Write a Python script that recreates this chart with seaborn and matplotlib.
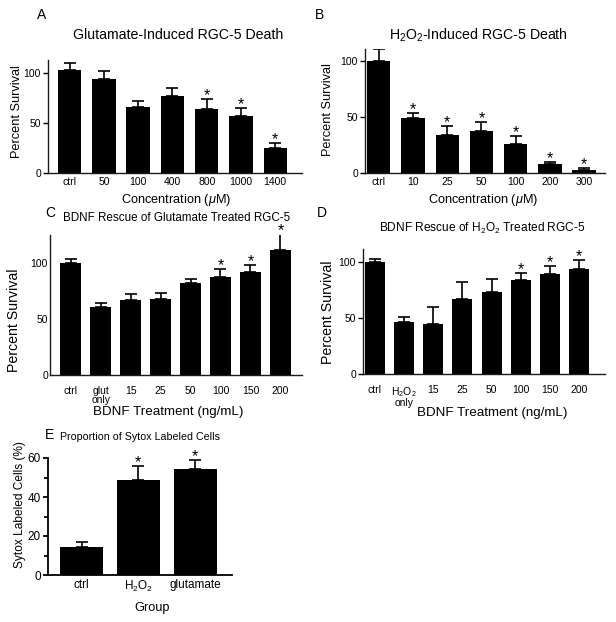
import matplotlib
matplotlib.use("Agg")
import matplotlib.pyplot as plt
import seaborn as sns
import pandas as pd

# Panel A: glutamate dose response
a_labels = ["ctrl", "50", "100", "400", "800", "1000", "1400"]
a_mean = [103, 94, 66, 77, 64, 57, 25]
a_err = [7, 8, 6, 8, 10, 8, 5]
a_star = [False, False, False, False, True, True, True]

# Panel B: H2O2 dose response
b_labels = ["ctrl", "10", "25", "50", "100", "200", "300"]
b_mean = [100, 49, 34, 38, 26, 8, 3]
b_err = [11, 5, 8, 8, 7, 2, 1.5]
b_star = [False, True, True, True, True, True, True]

# Panel C: BDNF rescue, glutamate
c_labels = ["ctrl", "glut\nonly", "15", "25", "50", "100", "150", "200"]
c_mean = [100, 60.5, 67, 68, 82.5, 87.5, 92, 112]
c_err = [4, 3.5, 5, 5, 3.5, 7.5, 6, 13.5]
c_star = [False, False, False, False, False, True, True, True]

# Panel D: BDNF rescue, H2O2
d_labels = ["ctrl", "$\\mathregular{H_2O_2}$\nonly", "15", "25", "50", "100", "150", "200"]
d_mean = [100, 46, 45, 67, 73, 84, 89, 94]
d_err = [3, 5, 15, 15, 12, 6, 7.5, 7.5]
d_star = [False, False, False, False, False, True, True, True]

# Panel E: sytox labelling
e_labels = ["ctrl", "$\\mathregular{H_2O_2}$", "glutamate"]
e_mean = [14.6, 48.9, 54.3]
e_err = [2.5, 6.8, 4.8]
e_star = [False, True, True]

sns.set_style("ticks")
plt.rcParams["font.family"] = ["Liberation Sans", "DejaVu Sans"]
plt.rcParams["mathtext.fontset"] = "custom"
plt.rcParams["mathtext.rm"] = "Liberation Sans"
plt.rcParams["mathtext.it"] = "Liberation Sans:italic"
for key in ("text.color", "axes.labelcolor", "xtick.color", "ytick.color", "axes.edgecolor"):
    plt.rcParams[key] = "black"

W, H = 616, 622
fig = plt.figure(figsize=(W / 100, H / 100), dpi=100)


def box(x0, y0, x1, y1):
    # pixel box (top-left origin) -> figure fraction rect
    return [x0 / W, 1 - y1 / H, (x1 - x0) / W, (y1 - y0) / H]


def ftext(x, y, s, **kw):
    fig.text(x / W, 1 - y / H, s, ha=kw.pop("ha", "center"), va=kw.pop("va", "center"), **kw)


def panel(rect, labels, mean, err, star, xlim, ylim, yticks, width=0.68,
          minor=None, ticklen=3.5, lw=1.0, tfs=7.5, pad=3):
    ax = fig.add_axes(box(*rect))
    df = pd.DataFrame({"group": labels, "value": mean})
    sns.barplot(data=df, x="group", y="value", color="black", width=width,
                saturation=1, edgecolor="none", ax=ax)
    pos = range(len(labels))
    ax.errorbar(pos, mean, yerr=[[0] * len(err), err], fmt="none",
                ecolor="black", elinewidth=1.2, capsize=4.5, capthick=1.2)
    # significance stars sit just above the cap
    for p, m, e, s in zip(pos, mean, err, star):
        if s:
            ax.annotate("*", (p, m + e), xytext=(0, -3), textcoords="offset points",
                        ha="center", va="bottom", fontsize=11.5, annotation_clip=False)
    ax.set_xlim(*xlim)
    ax.set_ylim(*ylim)
    ax.set_yticks(yticks)
    if minor is not None:
        ax.set_yticks(minor, minor=True)
        ax.tick_params(axis="y", which="minor", length=ticklen * 0.9, width=lw)
    ax.set_xlabel("")
    ax.set_ylabel("")
    ax.tick_params(axis="x", length=0, labelsize=tfs, pad=pad)
    ax.tick_params(axis="y", which="major", length=ticklen, width=lw, labelsize=tfs, pad=1.5)
    for t in ax.get_xticklabels():
        t.set_linespacing(0.9)
    sns.despine(ax=ax)
    for sp in ("left", "bottom"):
        ax.spines[sp].set_linewidth(lw)
        ax.spines[sp].set_color("#1a1a1a")
    return ax


# A
axA = panel((48, 60, 302, 173), a_labels, a_mean, a_err, a_star,
            (-0.63, 6.78), (0, 113), [0, 50, 100])
ftext(42, 15, "A", fontsize=10)
ftext(178, 35, "Glutamate-Induced RGC-5 Death", fontsize=10.2)
ftext(17, 112, "Percent Survival", fontsize=9.2, rotation=90)
ftext(176, 200, "Concentration ($\\mathit{\\mu}$M)", fontsize=9.2)

# B
axB = panel((365, 49, 605, 173), b_labels, b_mean, b_err, b_star,
            (-0.4, 6.61), (0, 111), [0, 50, 100])
ftext(320, 15, "B", fontsize=10)
ftext(478, 35, "$\\mathregular{H_2O_2}$-Induced RGC-5 Death", fontsize=10.2)
ftext(328, 110, "Percent Survival", fontsize=9.2, rotation=90)
ftext(483, 200, "Concentration ($\\mathit{\\mu}$M)", fontsize=9.2)

# C
axC = panel((50, 235, 302, 375), c_labels, c_mean, c_err, c_star,
            (-0.69, 7.72), (0, 125), [0, 50, 100], ticklen=0, pad=8)
ftext(50, 213, "C", fontsize=10)
ftext(177, 218, "BDNF Rescue of Glutamate Treated RGC-5", fontsize=8.4)
ftext(14, 320, "Percent Survival", fontsize=10.2, rotation=90)
ftext(168, 412, "BDNF Treatment (ng/mL)", fontsize=9.6)

# D
axD = panel((363, 249, 605, 374), d_labels, d_mean, d_err, d_star,
            (-0.4, 7.88), (0, 111.6), [0, 50, 100], pad=8)
ftext(322, 213, "D", fontsize=10)
ftext(482, 228, "BDNF Rescue of $\\mathregular{H_2O_2}$ Treated RGC-5", fontsize=8.6)
ftext(328, 312, "Percent Survival", fontsize=10.2, rotation=90)
ftext(492, 413, "BDNF Treatment (ng/mL)", fontsize=9.6)

# E
axE = panel((48, 458, 232, 575), e_labels, e_mean, e_err, e_star,
            (-0.59, 2.65), (0, 60), [0, 20, 40, 60], width=0.76,
            minor=[10, 30, 50], lw=1.3, tfs=8.5)
for sp in ("left", "bottom"):
    axE.spines[sp].set_color("black")
ftext(50, 435, "E", fontsize=10)
ftext(60, 437, "Proportion of Sytox Labeled Cells", fontsize=7.7, ha="left")
ftext(20, 505, "Sytox Labeled Cells (%)", fontsize=8.6, rotation=90)
ftext(152, 608, "Group", fontsize=9.2)

fig.savefig("out.png", dpi=100, facecolor="white")
